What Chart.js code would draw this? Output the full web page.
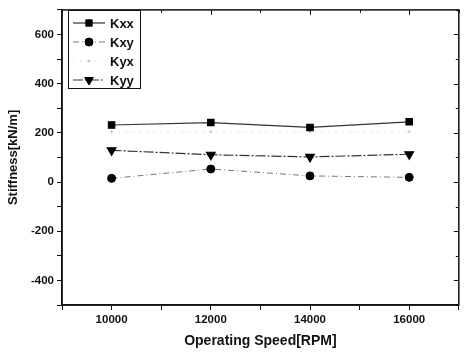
<!DOCTYPE html>
<html>
<head>
<meta charset="utf-8">
<script src="https://cdn.jsdelivr.net/npm/chart.js@4.4.0/dist/chart.umd.min.js"></script>
<style>
  html, body { margin: 0; padding: 0; background: #fff; }
  #wrap { width: 465px; height: 358px; position: relative; }
</style>
</head>
<body>
<div id="wrap"><canvas id="stiffChart"></canvas></div>
<script>
// data
const speeds = [10000, 12000, 14000, 16000];
const kxx = [232, 242, 222, 245];
const kxy = [15, 53, 25, 19];
const kyx = [205, 205, 205, 205];
const kyy = [129, 111, 102, 113];
const seriesNames = ['Kxx', 'Kxy', 'Kyx', 'Kyy'];

const toPts = (vals) => speeds.map((s, i) => ({ x: s, y: vals[i] }));

// legend box drawn inside the plot, plus the closed frame with inward ticks on top/right
const framePlugin = {
    id: 'frame',
    afterDraw(chart) {
        const ctx = chart.ctx;
        const a = chart.chartArea;
        const xs = chart.scales.x, ys = chart.scales.y;
        ctx.save();
        ctx.strokeStyle = '#111';
        ctx.lineWidth = 1.5;
        ctx.strokeRect(a.left, a.top, a.right - a.left, a.bottom - a.top);
        ctx.lineWidth = 1;
        for (let v = 9000; v <= 17000; v += 1000) {
            const px = Math.round(xs.getPixelForValue(v)) + 0.5;
            ctx.beginPath();
            ctx.moveTo(px, a.top);
            ctx.lineTo(px, a.top + (v % 2000 === 0 ? 5 : 3));
            ctx.stroke();
        }
        for (let v = -500; v <= 700; v += 100) {
            const py = Math.round(ys.getPixelForValue(v)) + 0.5;
            ctx.beginPath();
            ctx.moveTo(a.right, py);
            ctx.lineTo(a.right - (v % 200 === 0 ? 5 : 3), py);
            ctx.stroke();
        }

        // legend
        const bx = 68, by = 10, bw = 72, bh = 78;
        ctx.fillStyle = '#fff';
        ctx.fillRect(bx, by, bw, bh);
        ctx.strokeStyle = '#111';
        ctx.lineWidth = 1;
        ctx.strokeRect(bx + 0.5, by + 0.5, bw, bh);
        chart.data.datasets.forEach((ds, i) => {
            const yy = by + 13 + i * 19;
            ctx.save();
            ctx.strokeStyle = ds.borderColor;
            ctx.lineWidth = ds.borderWidth;
            ctx.setLineDash(ds.borderDash || []);
            ctx.beginPath();
            ctx.moveTo(bx + 5, yy);
            ctx.lineTo(bx + 37, yy);
            ctx.stroke();
            ctx.restore();
            ctx.save();
            ctx.fillStyle = ds.pointBackgroundColor;
            ctx.strokeStyle = ds.pointBorderColor;
            ctx.lineWidth = 1;
            Chart.helpers.drawPoint(ctx, {
                pointStyle: ds.pointStyle,
                radius: ds.pointRadius,
                rotation: ds.pointRotation || 0,
                borderWidth: 1
            }, bx + 21, yy);
            ctx.restore();
            ctx.fillStyle = '#111';
            ctx.font = 'bold 13px "Liberation Sans", Arial, sans-serif';
            ctx.textBaseline = 'middle';
            ctx.fillText(seriesNames[i], bx + 42, yy + 1);
        });
        ctx.restore();
    }
};

const tickFont = { family: '"Liberation Sans", Arial, sans-serif', size: 11.5, weight: 'bold' };
const titleFont = { family: '"Liberation Sans", Arial, sans-serif', size: 14, weight: 'bold' };

const ctx = document.getElementById('stiffChart').getContext('2d');
new Chart(ctx, {
    type: 'line',
    data: {
        datasets: [
            {
                label: seriesNames[0], data: toPts(kxx),
                borderColor: '#333', borderWidth: 1.2,
                pointStyle: 'rect', pointRadius: 4.5,
                pointBackgroundColor: '#000', pointBorderColor: '#000'
            },
            {
                label: seriesNames[1], data: toPts(kxy),
                borderColor: '#777', borderWidth: 1, borderDash: [6, 3, 1, 3],
                pointStyle: 'circle', pointRadius: 4,
                pointBackgroundColor: '#000', pointBorderColor: '#000'
            },
            {
                label: seriesNames[2], data: toPts(kyx),
                borderColor: '#ccc', borderWidth: 1, borderDash: [1, 6],
                pointStyle: 'circle', pointRadius: 0.8,
                pointBackgroundColor: '#bbb', pointBorderColor: '#bbb'
            },
            {
                label: seriesNames[3], data: toPts(kyy),
                borderColor: '#333', borderWidth: 1.2, borderDash: [10, 2, 2, 2],
                pointStyle: 'triangle', pointRotation: 180, pointRadius: 5,
                pointBackgroundColor: '#000', pointBorderColor: '#000'
            }
        ]
    },
    options: {
        responsive: true,
        maintainAspectRatio: false,
        animation: false,
        layout: { padding: { top: 5, right: 2, left: 0, bottom: 0 } },
        plugins: { legend: { display: false }, tooltip: { enabled: false } },
        scales: {
            x: {
                type: 'linear', min: 9000, max: 17000,
                afterFit: (s) => { s.height = 53; },
                border: { display: true, color: '#111', width: 1.5 },
                grid: { drawOnChartArea: false, tickLength: 5, color: '#111' },
                ticks: {
                    stepSize: 1000, color: '#111', font: tickFont, maxRotation: 0, autoSkip: false,
                    callback: (v) => (v % 2000 === 0 ? String(v) : '')
                },
                title: { display: true, text: 'Operating Speed[RPM]', color: '#111', font: titleFont, padding: { top: 4, bottom: 8 } }
            },
            y: {
                min: -500, max: 700,
                afterFit: (s) => { s.width = 62; },
                border: { display: true, color: '#111', width: 1.5 },
                grid: { drawOnChartArea: false, tickLength: 5, color: '#111' },
                ticks: {
                    stepSize: 100, color: '#111', font: tickFont, autoSkip: false,
                    callback: (v) => (v % 200 === 0 ? String(v) : '')
                },
                title: { display: true, text: 'Stiffness[kN/m]', color: '#111', font: { ...titleFont, size: 13 }, padding: { top: 6, bottom: 2 } }
            }
        }
    },
    plugins: [framePlugin]
});
</script>
</body>
</html>
